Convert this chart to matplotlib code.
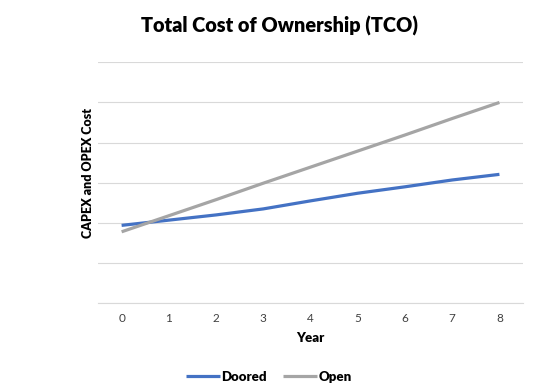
import matplotlib
matplotlib.use("Agg")
import matplotlib.pyplot as plt

years = [0, 1, 2, 3, 4, 5, 6, 7, 8]
doored = [1.94, 2.07, 2.20, 2.35, 2.55, 2.74, 2.90, 3.07, 3.21]
open_ = [1.78, 2.18, 2.58, 2.99, 3.39, 3.79, 4.19, 4.60, 5.00]

plt.rcParams['font.family'] = ['Lato', 'DejaVu Sans']

fig = plt.figure(figsize=(5.37, 3.92), dpi=100)
ax = fig.add_axes([0.1825, 0.2263, 0.7915, 0.6148])

ax.plot(years, doored, color='#4472C4', lw=2.3, label='Doored', solid_capstyle='butt')
ax.plot(years, open_, color='#A5A5A5', lw=2.3, label='Open', solid_capstyle='butt')

ax.set_xlim(-0.5, 8.5)
ax.set_ylim(0, 6)
ax.set_yticks([0, 1, 2, 3, 4, 5, 6])
ax.set_yticklabels([])
ax.tick_params(axis='y', length=0)
ax.set_xticks(years)
ax.set_xticklabels([str(y) for y in years], fontsize=8.5, color='#404040')
ax.tick_params(axis='x', length=0, pad=7)
ax.grid(axis='y', color='#D9D9D9', lw=0.8)
ax.set_axisbelow(True)
for s in ['top', 'right', 'left']:
    ax.spines[s].set_visible(False)
ax.spines['bottom'].set_color('#D9D9D9')
ax.spines['bottom'].set_linewidth(0.8)

ax.set_xlabel('Year', fontsize=9.5, fontweight='heavy', labelpad=6)
ax.set_ylabel('CAPEX and OPEX Cost', fontsize=9, fontweight='heavy')
ax.yaxis.set_label_coords(-0.01, 0.54)

fig.text(0.521, 0.935, 'Total Cost of Ownership (TCO)', ha='center', va='center',
         fontsize=14.3, fontweight='heavy')

leg = fig.legend(loc='center', bbox_to_anchor=(0.5, 0.038), ncol=2, frameon=False,
                 prop={'weight': 'heavy', 'size': 9.5}, handlelength=2.6,
                 handletextpad=0.1, columnspacing=1.2)

fig.savefig('out.png', dpi=100)
